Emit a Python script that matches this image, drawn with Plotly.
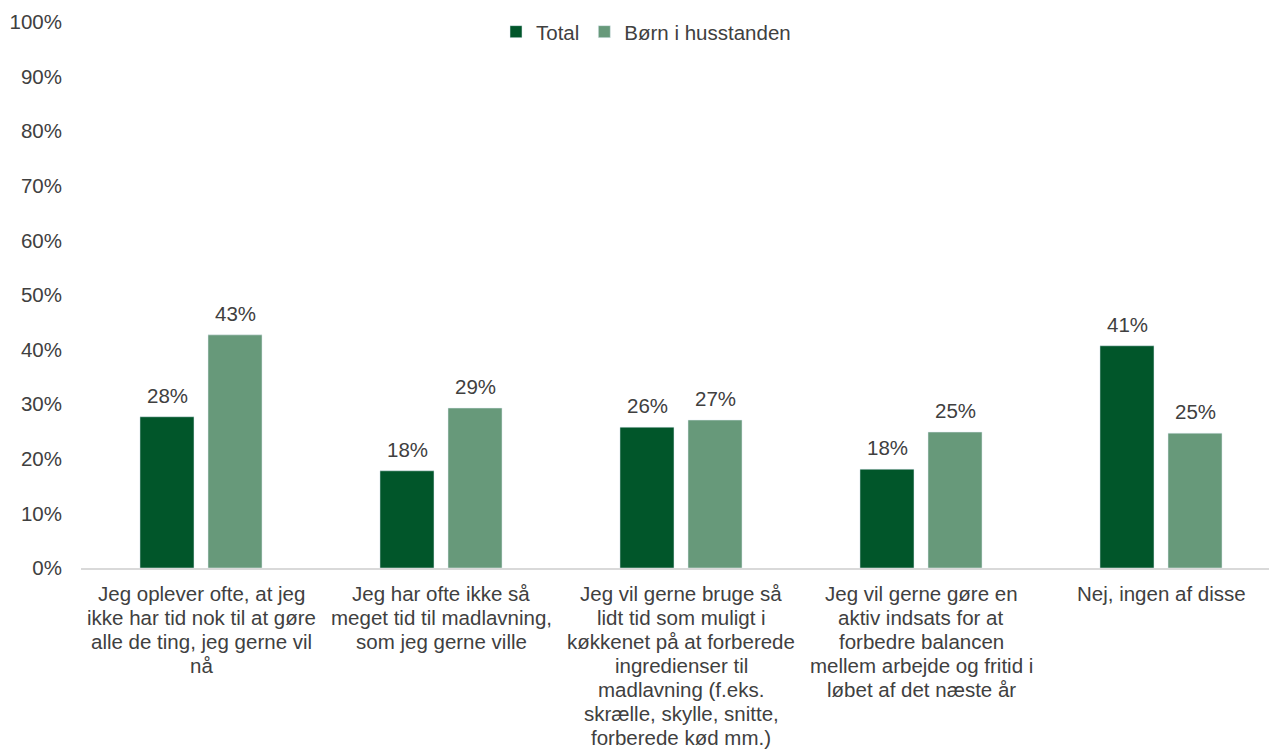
import plotly.graph_objects as go

# Survey statements (line breaks as they wrap under each group)
categories = [
    "Jeg oplever ofte, at jeg<br>ikke har tid nok til at gøre<br>alle de ting, jeg gerne vil<br>nå",
    "Jeg har ofte ikke så<br>meget tid til madlavning,<br>som jeg gerne ville",
    "Jeg vil gerne bruge så<br>lidt tid som muligt i<br>køkkenet på at forberede<br>ingredienser til<br>madlavning (f.eks.<br>skrælle, skylle, snitte,<br>forberede kød mm.)",
    "Jeg vil gerne gøre en<br>aktiv indsats for at<br>forbedre balancen<br>mellem arbejde og fritid i<br>løbet af det næste år",
    "Nej, ingen af disse",
]
total = [27.7, 17.8, 25.8, 18.1, 40.7]
boern = [42.7, 29.3, 27.1, 24.9, 24.7]
series_names = ["Total", "Børn i husstanden"]
y_ticks = list(range(0, 101, 10))
y_tick_labels = [f"{v}%" for v in y_ticks]

DARK = "#01562A"
LIGHT = "#67997A"
TEXT = "#404040"
FONT = "Liberation Sans, Arial, sans-serif"
FS = 20.5

x_idx = list(range(len(categories)))

fig = go.Figure()
fig.add_bar(x=x_idx, y=total, name=series_names[0], marker_color=DARK)
fig.add_bar(x=x_idx, y=boern, name=series_names[1], marker_color=LIGHT)

annotations = []
# Value labels above each bar
for vals, shift in ((total, -34), (boern, 34)):
    for i, v in enumerate(vals):
        annotations.append(dict(
            x=i, y=v, xref="x", yref="y", text=f"{v:.0f}%",
            showarrow=False, xshift=shift, yanchor="bottom", yshift=8,
            font=dict(family=FONT, size=FS, color=TEXT),
        ))

# Category labels, one annotation per wrapped line with tight spacing
for i, cat in enumerate(categories):
    for k, line in enumerate(cat.split("<br>")):
        annotations.append(dict(
            x=i, y=0, xref="x", yref="paper", text=line,
            showarrow=False, yanchor="middle", yshift=-25.5 - 24 * k,
            font=dict(family=FONT, size=FS, color=TEXT),
        ))

fig.update_layout(
    width=1269, height=749,
    margin=dict(l=81, r=0, t=22, b=181),
    paper_bgcolor="white", plot_bgcolor="white",
    barmode="group", bargap=0.433, bargroupgap=0.206,
    font=dict(family=FONT, size=FS, color=TEXT),
    showlegend=True,
    legend=dict(
        orientation="h", x=0.4756, xanchor="center", y=0.982, yanchor="middle",
        font=dict(family=FONT, size=FS, color=TEXT), itemwidth=30,
        bgcolor="rgba(0,0,0,0)",
    ),
    annotations=annotations,
)
fig.update_xaxes(
    range=[-0.5, 4.45], showticklabels=False, showgrid=False, ticks="",
    showline=True, linecolor="#D9D9D9", linewidth=1.5, zeroline=False,
)
fig.update_yaxes(
    range=[0, 100], tickmode="array", tickvals=y_ticks, ticktext=y_tick_labels,
    showgrid=False, zeroline=False, showline=False, ticks="", ticklabelstandoff=18,
    tickfont=dict(family=FONT, size=FS, color=TEXT),
)

fig.write_html("out.html")
